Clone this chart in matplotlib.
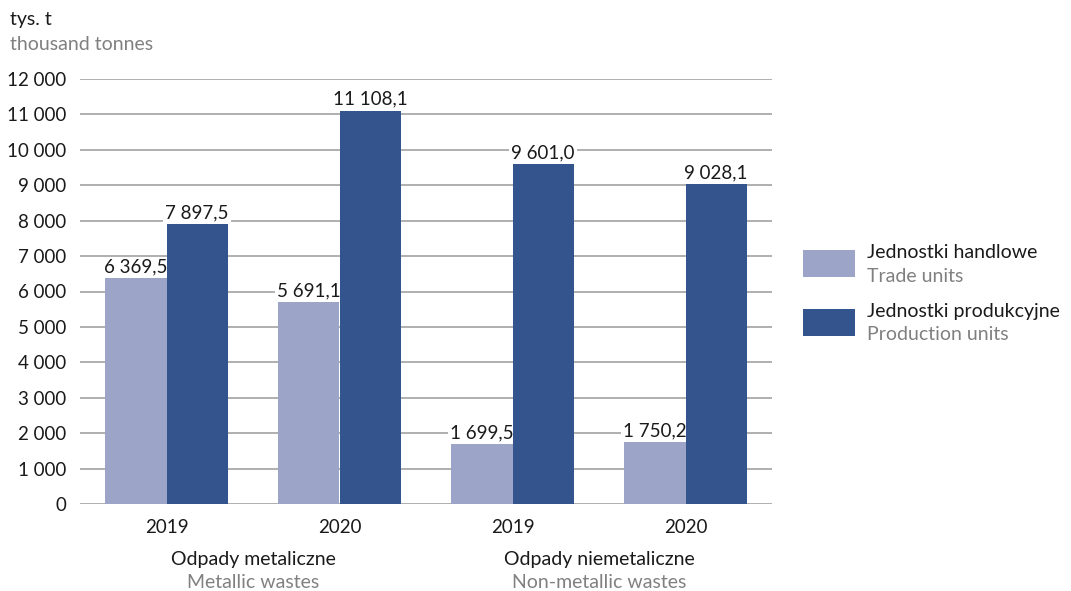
import matplotlib
matplotlib.use("Agg")
import matplotlib.pyplot as plt
from matplotlib.patches import Rectangle

plt.rcParams['font.family'] = ['Lato', 'DejaVu Sans']

years = ["2019", "2020", "2019", "2020"]
groups_pl = ["Odpady metaliczne", "Odpady niemetaliczne"]
groups_en = ["Metallic wastes", "Non-metallic wastes"]
trade = [6369.5, 5691.1, 1699.5, 1750.2]
production = [7897.5, 11108.1, 9601.0, 9028.1]
series_pl = ["Jednostki handlowe", "Jednostki produkcyjne"]
series_en = ["Trade units", "Production units"]
yticks = list(range(0, 12001, 1000))

LIGHT = "#9ca5c7"
DARK = "#34548e"
GRID = "#9a9a9a"
TXT = "#1a1a1a"
GRAY = "#808080"
FS = 14
FS_NUM = 13.5

def fmt(v, dec=1):
    s = f"{v:,.{dec}f}"
    return s.replace(",", " ").replace(".", ",")

fig = plt.figure(figsize=(10.71, 5.91), dpi=100)
ax = fig.add_axes([80/1071, 1-504/591, 692/1071, 425/591])
ax.set_xlim(-0.5, 3.5)
ax.set_ylim(0, 12000)

w = 0.353
x = list(range(len(years)))
for xi, t, p in zip(x, trade, production):
    ax.bar(xi - w/2, t, width=w, color=LIGHT, linewidth=0, zorder=2)
    ax.bar(xi + w/2, p, width=w, color=DARK, linewidth=0, zorder=4)
    ax.annotate(fmt(t), (xi - w/2, t), xytext=(0, 2), textcoords="offset points",
                ha="center", va="bottom", fontsize=FS_NUM, color=TXT, zorder=3,
                bbox=dict(boxstyle="square,pad=0.1", fc="white", ec="none"))
    ax.annotate(fmt(p), (xi + w/2, p), xytext=(0, 2), textcoords="offset points",
                ha="center", va="bottom", fontsize=FS_NUM, color=TXT, zorder=5,
                bbox=dict(boxstyle="square,pad=0.1", fc="white", ec="none"))

ax.set_yticks(yticks)
ax.set_yticklabels([fmt(v, 0) for v in yticks], fontsize=FS_NUM, color=TXT)
ax.yaxis.grid(True, color=GRID, linewidth=1.1, zorder=0)
ax.set_axisbelow(True)
ax.tick_params(axis="y", length=0, pad=10)
ax.set_xticks(x)
ax.set_xticklabels(years, fontsize=FS_NUM, color=TXT)
ax.tick_params(axis="x", length=0, pad=11)
for s in ax.spines.values():
    s.set_visible(False)

# group labels (centred under each pair of years)
for gi in range(2):
    cx = (x[2*gi] + x[2*gi + 1]) / 2
    xf = fig.transFigure.inverted().transform(ax.transData.transform((cx, 0)))[0]
    fig.text(xf, 1-560/591, groups_pl[gi], ha="center", va="center", fontsize=FS, color=TXT)
    fig.text(xf, 1-582/591, groups_en[gi], ha="center", va="center", fontsize=FS, color=GRAY)

# header
fig.text(10/1071, 1-20/591, "tys. t", fontsize=FS, color=TXT, va="center", ha="left")
fig.text(10/1071, 1-45/591, "thousand tonnes", fontsize=FS, color=GRAY, va="center", ha="left")

# legend
for i, (col, pl, en) in enumerate(zip([LIGHT, DARK], series_pl, series_en)):
    y0 = 250 + i * 59
    fig.patches.append(Rectangle((803/1071, 1-(y0+27)/591), 52/1071, 27/591,
                                 transform=fig.transFigure, color=col, linewidth=0))
    fig.text(867/1071, 1-(y0+3)/591, pl, fontsize=FS, color=TXT, va="center", ha="left")
    fig.text(867/1071, 1-(y0+26)/591, en, fontsize=FS, color=GRAY, va="center", ha="left")

fig.savefig("out.png", dpi=100)
